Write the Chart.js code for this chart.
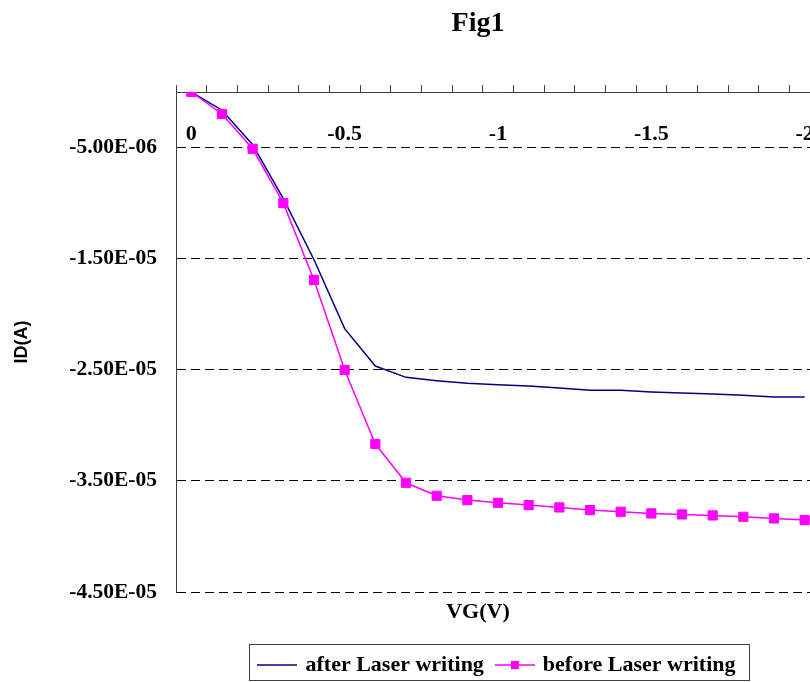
<!DOCTYPE html>
<html>
<head>
<meta charset="utf-8">
<script src="https://cdn.jsdelivr.net/npm/chart.js@4/dist/chart.umd.min.js"></script>
<style>
  html, body { margin: 0; padding: 0; background: #fff; overflow: hidden; }
  #wrap { width: 956px; height: 682px; }
</style>
</head>
<body>
<div id="wrap"><canvas id="c" width="956" height="682"></canvas></div>
<script>
// ---- data ----
const VG = [0, -0.1, -0.2, -0.3, -0.4, -0.5, -0.6, -0.7, -0.8, -0.9, -1.0,
            -1.1, -1.2, -1.3, -1.4, -1.5, -1.6, -1.7, -1.8, -1.9, -2.0];
const ID_after = [0, -1.64e-6, -4.75e-6, -9.6e-6, -1.51e-5, -2.13e-5, -2.466e-5, -2.568e-5,
                  -2.598e-5, -2.622e-5, -2.634e-5, -2.646e-5, -2.664e-5, -2.685e-5, -2.685e-5,
                  -2.70e-5, -2.709e-5, -2.718e-5, -2.73e-5, -2.745e-5, -2.745e-5];
const ID_before = [0, -1.98e-6, -5.11e-6, -1.0e-5, -1.691e-5, -2.502e-5, -3.168e-5, -3.517e-5,
                   -3.634e-5, -3.673e-5, -3.697e-5, -3.718e-5, -3.739e-5, -3.763e-5, -3.778e-5,
                   -3.793e-5, -3.802e-5, -3.811e-5, -3.823e-5, -3.838e-5, -3.853e-5];
const xTickLabels = ['0', '-0.5', '-1', '-1.5', '-2'];
const yTickValues = [-5e-6, -1.5e-5, -2.5e-5, -3.5e-5, -4.5e-5];
const yTickLabels = ['-5.00E-06', '-1.50E-05', '-2.50E-05', '-3.50E-05', '-4.50E-05'];
const seriesNames = ['after Laser writing', 'before Laser writing'];

const NAVY = '#000080';
const MAGENTA = '#FF00FF';
const SERIF = "'Liberation Serif', 'Times New Roman', serif";

// legend icons (line, line+square)
function makeIcon(color, withMarker) {
  const c = document.createElement('canvas');
  c.width = 40; c.height = 16;
  const g = c.getContext('2d');
  g.strokeStyle = color; g.lineWidth = 1.5;
  g.beginPath(); g.moveTo(0, 8); g.lineTo(40, 8); g.stroke();
  if (withMarker) { g.fillStyle = color; g.fillRect(16, 4, 8, 8); }
  return c;
}
const legendIcons = [makeIcon(NAVY, false), makeIcon(MAGENTA, true)];

const legendBox = {
  id: 'legendBox',
  afterDraw(chart) {
    const lg = chart.legend;
    if (!lg || !lg.legendHitBoxes || !lg.legendHitBoxes.length) return;
    const hb = lg.legendHitBoxes;
    let l = Infinity, r = -Infinity, t = Infinity, b = -Infinity;
    hb.forEach(h => {
      l = Math.min(l, h.left); r = Math.max(r, h.left + h.width);
      t = Math.min(t, h.top); b = Math.max(b, h.top + h.height);
    });
    const ctx = chart.ctx;
    ctx.save();
    ctx.strokeStyle = '#404040';
    ctx.lineWidth = 1;
    const x0 = Math.round(l - 11) + 0.5, x1 = Math.round(r + 13) + 0.5;
    const y0 = Math.round(t - 10) + 0.5, y1 = Math.round(b + 4) + 0.5;
    ctx.strokeRect(x0, y0, x1 - x0, y1 - y0);
    ctx.restore();
  }
};

Chart.defaults.font.family = SERIF;
Chart.defaults.font.weight = 'bold';
Chart.defaults.color = '#000';

new Chart(document.getElementById('c'), {
  type: 'line',
  data: {
    labels: VG.map(String),
    datasets: [
      {
        label: seriesNames[0],
        data: ID_after,
        borderColor: NAVY,
        backgroundColor: NAVY,
        borderWidth: 1.5,
        pointRadius: 0,
        tension: 0,
        order: 1
      },
      {
        label: seriesNames[1],
        data: ID_before,
        borderColor: MAGENTA,
        backgroundColor: MAGENTA,
        borderWidth: 1.5,
        pointStyle: 'rect',
        pointRadius: 6.5,
        pointBorderWidth: 1,
        pointBackgroundColor: MAGENTA,
        pointBorderColor: MAGENTA,
        tension: 0,
        order: 0
      }
    ]
  },
  options: {
    responsive: false,
    animation: false,
    devicePixelRatio: 1,
    layout: { padding: 0 },
    scales: {
      x: {
        type: 'category',
        position: 'top',
        offset: true,
        grid: {
          display: true,
          offset: true,
          drawOnChartArea: false,
          drawTicks: true,
          tickLength: 7,
          tickColor: '#404040',
          tickWidth: 1
        },
        border: { display: true, color: '#404040', width: 1 },
        ticks: {
          autoSkip: false,
          maxRotation: 0,
          minRotation: 0,
          mirror: true,
          padding: 29,
          font: { family: SERIF, size: 22, weight: 'bold' },
          color: '#000',
          callback: (v, i) => (i % 5 === 0 ? xTickLabels[i / 5] : '')
        },
        afterFit: (s) => { s.height = 7; }
      },
      y: {
        type: 'linear',
        position: 'left',
        min: -4.5e-5,
        max: 0,
        afterBuildTicks: (s) => { s.ticks = yTickValues.map(v => ({ value: v })); },
        grid: { display: true, color: '#000', lineWidth: 1, drawTicks: false },
        border: { display: true, color: '#404040', width: 1, dash: [9, 5] },
        ticks: {
          padding: 19,
          font: { family: SERIF, size: 21.5, weight: 'bold' },
          color: '#000',
          callback: (v, i) => yTickLabels[i]
        },
        title: {
          display: true,
          text: 'ID(A)',
          font: { family: "'Liberation Sans', Arial, sans-serif", size: 18, weight: 'bold' },
          color: '#000',
          padding: { top: 11, bottom: 0 }
        },
        afterFit: (s) => { s.width = 176; }
      },
      y2: {
        type: 'linear',
        position: 'right',
        display: true,
        grid: { display: false, drawTicks: false },
        border: { display: false },
        ticks: { display: false },
        afterFit: (s) => { s.width = 136; }
      }
    },
    plugins: {
      title: {
        display: true,
        text: 'Fig1',
        position: 'top',
        fullSize: true,
        font: { family: SERIF, size: 28, weight: 'bold' },
        color: '#000',
        padding: { top: 7, bottom: 44.4 }
      },
      subtitle: {
        display: true,
        text: 'VG(V)',
        position: 'bottom',
        fullSize: true,
        weight: 500,
        font: { family: SERIF, size: 22, weight: 'bold' },
        color: '#000',
        padding: { top: 7, bottom: 14.6 }
      },
      legend: {
        display: true,
        position: 'bottom',
        fullSize: false,
        maxHeight: 42,
        labels: {
          usePointStyle: true,
          pointStyleWidth: 34,
          padding: 14,
          color: '#000',
          font: { family: SERIF, size: 22, weight: 'bold' },
          generateLabels: (chart) => {
            const items = Chart.defaults.plugins.legend.labels.generateLabels(chart);
            items.sort((a, b) => a.datasetIndex - b.datasetIndex);
            return items.map(it => Object.assign({}, it, { pointStyle: legendIcons[it.datasetIndex] }));
          }
        }
      },
      tooltip: { enabled: false }
    }
  },
  plugins: [legendBox]
});
</script>
</body>
</html>
